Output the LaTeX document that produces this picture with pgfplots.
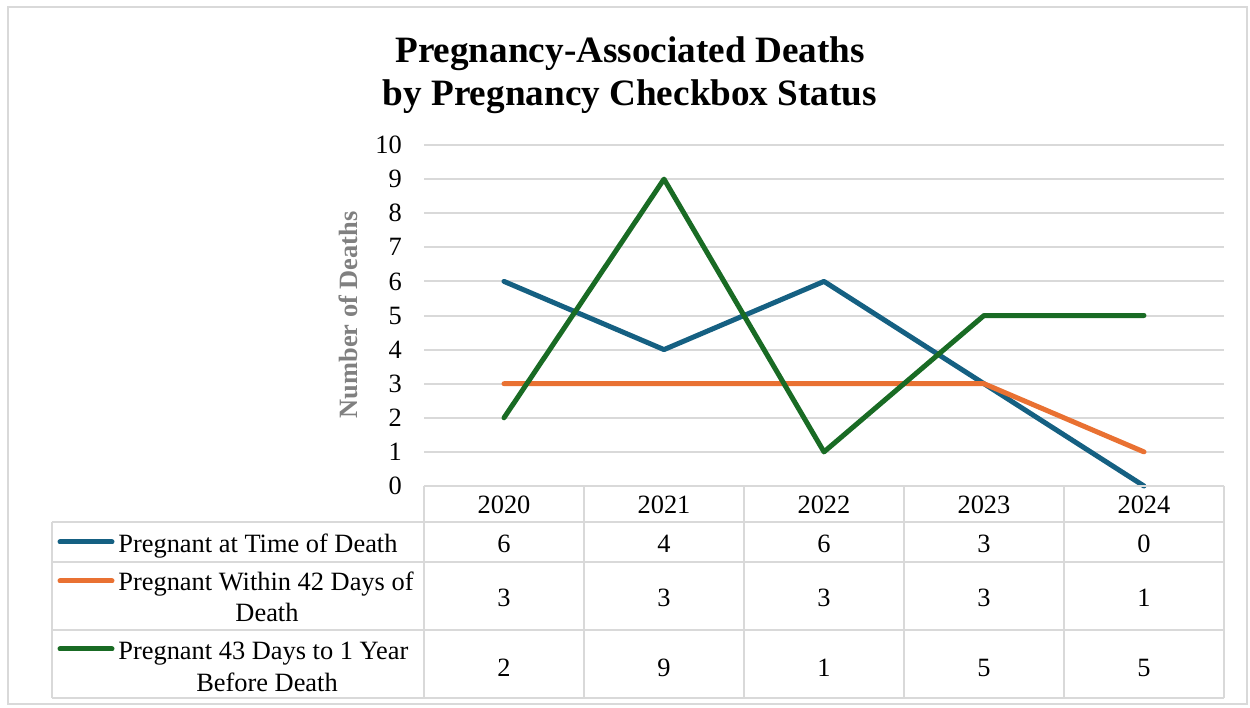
\documentclass[border=0pt]{standalone}
\usepackage{fontspec}
\setmainfont{Liberation Serif}
\usepackage{pgfplots}
\pgfplotsset{compat=1.18}
\definecolor{cblue}{HTML}{156082}
\definecolor{corange}{HTML}{E97132}
\definecolor{cgreen}{HTML}{196B24}
\definecolor{gridc}{HTML}{D9D9D9}
\definecolor{labc}{HTML}{808080}
\begin{document}
\begin{tikzpicture}
\path[use as bounding box] (0pt,0pt) rectangle (625pt,354pt);
\begin{axis}[at={(212pt,111pt)}, anchor=south west, scale only axis,
  width=400pt, height=170.5pt,
  xmin=-0.5, xmax=4.5, ymin=0, ymax=10,
  axis line style={draw=none},
  ymajorgrids, grid style={gridc, line width=1pt},
  ytick={0,...,10}, xtick={0,...,4}, xticklabels={2020,2021,2022,2023,2024},
  major tick length=0pt,
  tick label style={font=\fontsize{13.2}{15}\selectfont},
  yticklabel style={xshift=-7.6pt},
  xticklabel style={yshift=-1.5pt},
  /pgf/number format/assume math mode=true,
  clip=false,
  every axis plot/.append style={line width=2.5pt, line cap=round, line join=round},
]
\addplot[cblue] coordinates {(0,6) (1,4) (2,6) (3,3) (4,0)};
\addplot[corange] coordinates {(0,3) (1,3) (2,3) (3,3) (4,1)};
\addplot[cgreen] coordinates {(0,2) (1,9) (2,1) (3,5) (4,5)};
\end{axis}
\begin{scope}[x=0.5pt, y=-0.5pt, shift={(0pt,354pt)}]
\draw[gridc, line width=1pt] (7.5,7.5) rectangle (1246.5,704);
% table grid
\begin{scope}[gridc, line width=1pt]
\draw (424,486) -- (1224,486);
\foreach \yy in {522,562,630,698} \draw (52,\yy) -- (1224,\yy);
\draw (52,522) -- (52,698);
\foreach \xx in {424,584,744,904,1064,1224} \draw (\xx,486) -- (\xx,698);
\end{scope}
% table values
\begin{scope}[every node/.style={font=\fontsize{13.2}{15}\selectfont, anchor=base, inner sep=0pt}]
\foreach \v [count=\i from 0] in {6,4,6,3,0} \node at (504+160*\i,553) {\v};
\foreach \v [count=\i from 0] in {3,3,3,3,1} \node at (504+160*\i,607) {\v};
\foreach \v [count=\i from 0] in {2,9,1,5,5} \node at (504+160*\i,676) {\v};
\node[anchor=base west] at (118,553) {Pregnant at Time of Death};
\node[anchor=base west] at (118,591) {Pregnant Within 42 Days of};
\node at (267,622) {Death};
\node[anchor=base west] at (118,660) {Pregnant 43 Days to 1 Year};
\node at (267,691) {Before Death};
\end{scope}
% legend keys
\draw[cblue, line width=2.5pt, line cap=round] (60,542) -- (112,542);
\draw[corange, line width=2.5pt, line cap=round] (60,581) -- (112,581);
\draw[cgreen, line width=2.5pt, line cap=round] (60,649) -- (112,649);
% titles
\node[anchor=base, font=\fontsize{18.6}{22}\selectfont\bfseries, inner sep=0pt] at (630,63) {Pregnancy-Associated Deaths};
\node[anchor=base, font=\fontsize{18.6}{22}\selectfont\bfseries, inner sep=0pt] at (630,106) {by Pregnancy Checkbox Status};
\node[rotate=90, font=\fontsize{13.2}{15}\selectfont\bfseries, text=labc, inner sep=0pt] at (348,315) {Number of Deaths};
\end{scope}
\end{tikzpicture}
\end{document}
